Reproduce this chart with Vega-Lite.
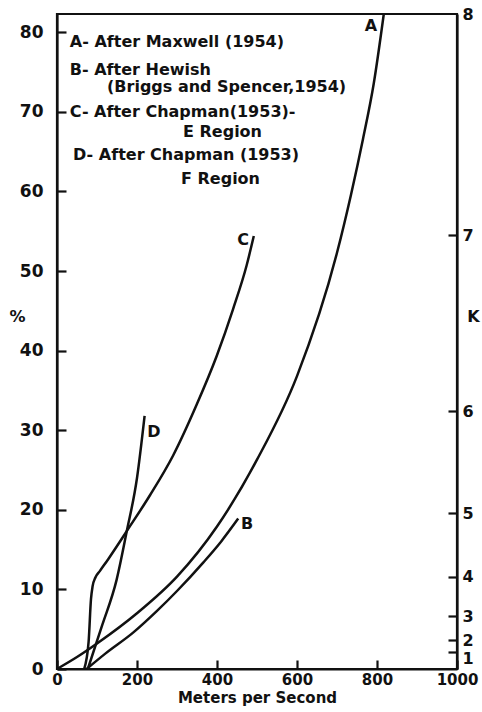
{
  "$schema": "https://vega.github.io/schema/vega-lite/v6.json",
  "autosize": {"type": "none"},
  "padding": {"left": 57, "top": 14, "right": 25, "bottom": 43},
  "width": 400,
  "height": 655,
  "background": "white",
  "config": {
    "font": "DejaVu Sans",
    "view": {"stroke": "#111", "strokeWidth": 2.2},
    "axis": {
      "domainColor": "#111", "domainWidth": 2.2, "tickColor": "#111", "tickWidth": 2.2,
      "tickSize": -9, "ticks": true, "grid": false, "labelColor": "#111", "labelFont": "DejaVu Sans",
      "labelFontSize": 17, "labelFontWeight": "bold", "labelOverlap": false, "labelFlush": false,
      "titleFont": "DejaVu Sans", "titleFontSize": 16, "titleFontWeight": "bold", "titleColor": "#111",
      "zindex": 1
    }
  },
  "datasets": {
    "curves": [
      {"s": "A", "x": 0, "y": 0}, {"s": "A", "x": 50, "y": 1.5}, {"s": "A", "x": 100, "y": 3.2},
      {"s": "A", "x": 200, "y": 7.0}, {"s": "A", "x": 300, "y": 11.6}, {"s": "A", "x": 400, "y": 17.9},
      {"s": "A", "x": 500, "y": 26.3}, {"s": "A", "x": 600, "y": 36.8}, {"s": "A", "x": 700, "y": 52.3},
      {"s": "A", "x": 735, "y": 59.6}, {"s": "A", "x": 765, "y": 66.6}, {"s": "A", "x": 792, "y": 73.6},
      {"s": "A", "x": 817, "y": 82.3},
      {"s": "B", "x": 74, "y": 0}, {"s": "B", "x": 120, "y": 1.9}, {"s": "B", "x": 191, "y": 4.6},
      {"s": "B", "x": 250, "y": 7.3}, {"s": "B", "x": 300, "y": 9.8}, {"s": "B", "x": 366, "y": 13.4},
      {"s": "B", "x": 410, "y": 16.0}, {"s": "B", "x": 453, "y": 18.9},
      {"s": "C", "x": 68, "y": 0}, {"s": "C", "x": 79, "y": 3.4}, {"s": "C", "x": 85, "y": 8.8},
      {"s": "C", "x": 89, "y": 10.4}, {"s": "C", "x": 96, "y": 11.5}, {"s": "C", "x": 107, "y": 12.3},
      {"s": "C", "x": 128, "y": 13.8}, {"s": "C", "x": 178, "y": 17.6}, {"s": "C", "x": 232, "y": 21.8},
      {"s": "C", "x": 290, "y": 26.8}, {"s": "C", "x": 349, "y": 33.2}, {"s": "C", "x": 399, "y": 39.3},
      {"s": "C", "x": 440, "y": 45.2}, {"s": "C", "x": 474, "y": 50.7}, {"s": "C", "x": 492, "y": 54.4},
      {"s": "D", "x": 77, "y": 0}, {"s": "D", "x": 113, "y": 5.5}, {"s": "D", "x": 149, "y": 11.2},
      {"s": "D", "x": 174, "y": 17.2}, {"s": "D", "x": 200, "y": 24.0}, {"s": "D", "x": 219, "y": 31.8}
    ],
    "curveLabels": [
      {"t": "A", "x": 785, "y": 80.8}, {"t": "B", "x": 475, "y": 18.2},
      {"t": "C", "x": 465, "y": 53.9}, {"t": "D", "x": 242, "y": 29.8}
    ],
    "legend": [
      {"t": "A- After Maxwell (1954)", "x": 32, "y": 78.8},
      {"t": "B- After Hewish", "x": 32, "y": 75.3},
      {"t": "(Briggs and Spencer,1954)", "x": 125, "y": 73.1},
      {"t": "C- After Chapman(1953)-", "x": 32, "y": 70.0},
      {"t": "E  Region", "x": 315, "y": 67.5},
      {"t": "D- After Chapman (1953)", "x": 40, "y": 64.6},
      {"t": "F  Region", "x": 310, "y": 61.6}
    ],
    "kscale": [
      {"k": 1, "x": 1000, "y": 2.1}, {"k": 2, "x": 1000, "y": 3.6}, {"k": 3, "x": 1000, "y": 6.6},
      {"k": 4, "x": 1000, "y": 11.6}, {"k": 5, "x": 1000, "y": 19.6}, {"k": 6, "x": 1000, "y": 32.4},
      {"k": 7, "x": 1000, "y": 54.5}, {"k": 8, "x": 1000, "y": 82.3}
    ]
  },
  "encoding": {
    "x": {"field": "x", "type": "quantitative", "scale": {"domain": [0, 1000], "nice": false},
          "axis": {"values": [0, 200, 400, 600, 800, 1000], "format": "d", "title": "Meters per Second", "labelFontSize": 15, "labelPadding": 12, "titlePadding": 3, "titleFontSize": 15}}
  },
  "layer": [
    {
      "encoding": {
        "y": {"field": "y", "type": "quantitative", "scale": {"domain": [0, 82.3], "nice": false},
              "axis": {"orient": "left", "values": [0, 10, 20, 30, 40, 50, 60, 70, 80], "title": "%", "titleAngle": 0, "titleX": -40, "titleY": 302, "titleBaseline": "middle", "labelPadding": 23}}
      },
      "layer": [
        {
          "data": {"name": "curves"},
          "mark": {"type": "line", "interpolate": "monotone", "color": "#111", "strokeWidth": 2.5},
          "encoding": {"detail": {"field": "s"}}
        },
        {
          "data": {"name": "curveLabels"},
          "mark": {"type": "text", "fontSize": 16, "fontWeight": "bold", "color": "#111"},
          "encoding": {"text": {"field": "t"}}
        },
        {
          "data": {"name": "legend"},
          "mark": {"type": "text", "fontSize": 16, "fontWeight": "bold", "align": "left", "color": "#111"},
          "encoding": {"text": {"field": "t"}}
        }
      ]
    },
    {
      "data": {"name": "kscale"},
      "mark": {"type": "point", "opacity": 0},
      "encoding": {
        "y": {"field": "y", "type": "quantitative", "scale": {"domain": [0, 82.3], "nice": false},
              "axis": {"orient": "right", "values": [2.1, 3.6, 6.6, 11.6, 19.6, 32.4, 54.5, 82.3],
                       "labelExpr": "datum.value < 3 ? '1' : datum.value < 5 ? '2' : datum.value < 9 ? '3' : datum.value < 15 ? '4' : datum.value < 25 ? '5' : datum.value < 40 ? '6' : datum.value < 60 ? '7' : '8'",
                       "labelFontSize": 16,
                       "labelOffset": {"condition": {"test": "datum.value < 3", "value": 6}, "value": 0},
                       "tickOpacity": {"condition": {"test": "datum.value > 80", "value": 0}, "value": 1},
                       "title": "K", "titleAngle": 0, "titleX": 16, "titleY": 302, "titleBaseline": "middle", "labelPadding": 14}}
      }
    }
  ],
  "resolve": {"scale": {"y": "independent"}, "axis": {"y": "independent"}}
}
